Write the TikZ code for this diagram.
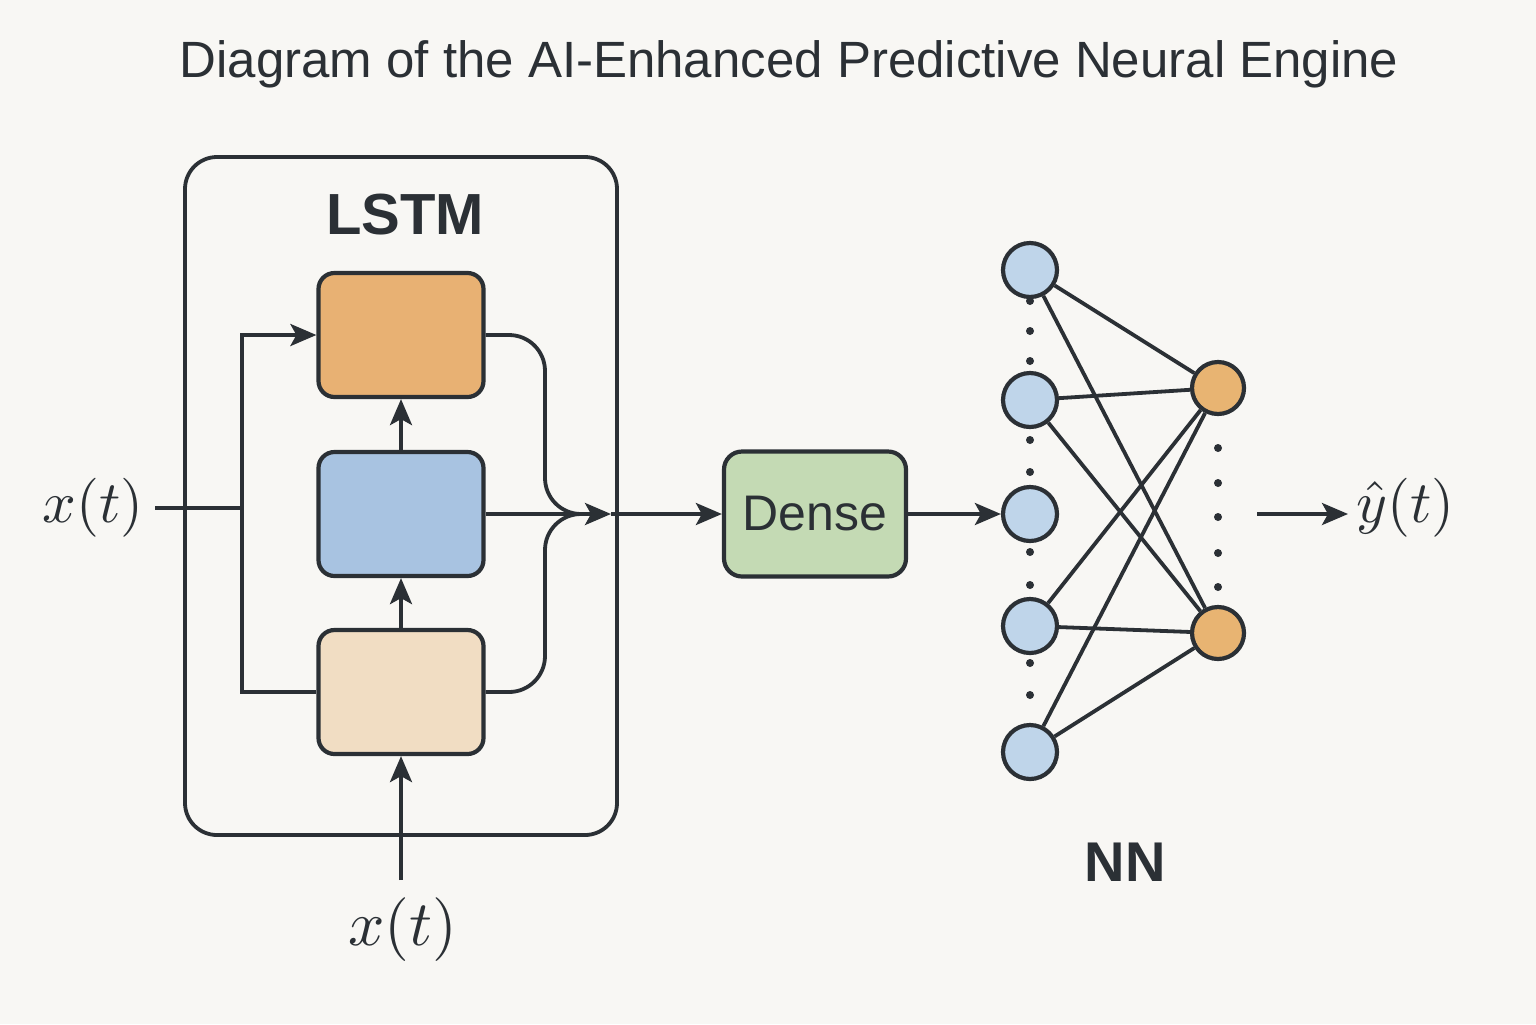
\documentclass[tikz,border=0pt]{standalone}
\usepackage{fontspec}
\setsansfont{Liberation Sans}
\usetikzlibrary{arrows.meta}
\definecolor{bg}{HTML}{F8F7F4}
\definecolor{ink}{HTML}{2B3035}
\definecolor{orangebox}{HTML}{E8B173}
\definecolor{bluebox}{HTML}{A8C3E1}
\definecolor{peachbox}{HTML}{F1DDC3}
\definecolor{greenbox}{HTML}{C4DAB4}
\definecolor{bluenode}{HTML}{BFD5EA}
\definecolor{orangenode}{HTML}{E8B472}
\tikzset{
  conn/.style={draw=ink, line width=1.9pt},
  arr/.style={conn, -{Stealth[length=13pt,width=11pt,inset=3pt]}},
  gate/.style={draw=ink, line width=2.1pt, rounded corners=8pt, minimum width=82.5pt, minimum height=62pt, inner sep=0pt},
  neuron/.style={circle, draw=ink, line width=2.1pt, inner sep=0pt},
  dotn/.style={circle, fill=ink, minimum size=4pt, inner sep=0pt},
  mathlbl/.style={text=ink, font=\fontsize{10}{12}\selectfont, scale=2.95},
}
\begin{document}
\begin{tikzpicture}[x=0.5pt,y=-0.5pt]
\fill[bg] (0,0) rectangle (1536,1024);
\useasboundingbox (0,0) rectangle (1536,1024);

\node[text=ink, font=\sffamily\fontsize{25.5}{30}\selectfont] (title) at (789,64) {Diagram of the AI-Enhanced Predictive Neural Engine};

% LSTM block
\node[draw=ink, line width=1.9pt, rounded corners=16pt, minimum width=216pt, minimum height=339pt, inner sep=0pt] (lstmbox) at (401,496) {};
\node[text=ink, font=\sffamily\bfseries\fontsize{29}{34}\selectfont] (lstmlbl) at (405,215) {LSTM};

\node[gate, fill=orangebox] (top) at (401,335) {};
\node[gate, fill=bluebox] (blu) at (401,514) {};
\node[gate, fill=peachbox] (pea) at (401,692) {};

\draw[arr] (blu.north) -- (top.south);
\draw[arr] (pea.north) -- (blu.south);

\node[mathlbl, scale=1.08] (xb) at (403,930) {$x(t)$};
\coordinate (xbin) at (401,880);
\draw[arr] (xbin) -- (pea.south);

\node[mathlbl] (xl) at (93,508) {$x(t)$};
\coordinate (xlin) at (155,508);
\coordinate (jt) at (242,508);
\draw[conn] (xlin) -- (jt);
\draw[arr] (jt) |- (top.west);
\draw[conn] (jt) |- (pea.west);

\coordinate (cm) at (545,514);
\coordinate (mrg) at (611,514);
\coordinate (cme) at (596,514);
\draw[conn, rounded corners=18pt] (top.east) -| (cm) -- (cme);
\draw[conn, rounded corners=18pt] (pea.east) -| (cm) -- (cme);
\draw[arr] (blu.east) -- (mrg);

% Dense
\node[draw=ink, line width=2.1pt, rounded corners=9pt, fill=greenbox, minimum width=91pt, minimum height=62.5pt, inner sep=0pt, text=ink, font=\sffamily\fontsize{25}{30}\selectfont] (dense) at (815,514) {Dense};
\draw[arr] (mrg) -- (dense.west);

% NN dots
\foreach \yy [count=\i] in {301,331,361,440,472,552,585,663,695}
  \node[dotn] (ld\i) at (1030,\yy) {};
\foreach \yy [count=\i] in {448,483,517,553,587}
  \node[dotn] (rd\i) at (1218,\yy) {};

% NN nodes
\node[neuron, fill=bluenode, minimum size=27pt] (L1) at (1030,270) {};
\node[neuron, fill=bluenode, minimum size=27pt] (L2) at (1030,400) {};
\node[neuron, fill=bluenode, minimum size=27pt] (L3) at (1030,514) {};
\node[neuron, fill=bluenode, minimum size=27pt] (L4) at (1030,626) {};
\node[neuron, fill=bluenode, minimum size=27pt] (L5) at (1030,752) {};
\node[neuron, fill=orangenode, minimum size=26pt] (O1) at (1218,388) {};
\node[neuron, fill=orangenode, minimum size=26pt] (O2) at (1218,633) {};

\foreach \a in {L1,L2,L4,L5}
  \foreach \b in {O1,O2}
    \draw[conn] (\a) -- (\b);

\draw[arr] (dense.east) -- (L3.west);

\coordinate (yst) at (1257,514);
\coordinate (yend) at (1348,514);
\node[mathlbl, anchor=west, inner sep=0pt] (yl) at (1355,508) {$\hat{y}(t)$};
\draw[arr] (yst) -- (yend);

\node[text=ink, font=\sffamily\bfseries\fontsize{28}{33}\selectfont] (nn) at (1125,862) {NN};
\end{tikzpicture}
\end{document}
